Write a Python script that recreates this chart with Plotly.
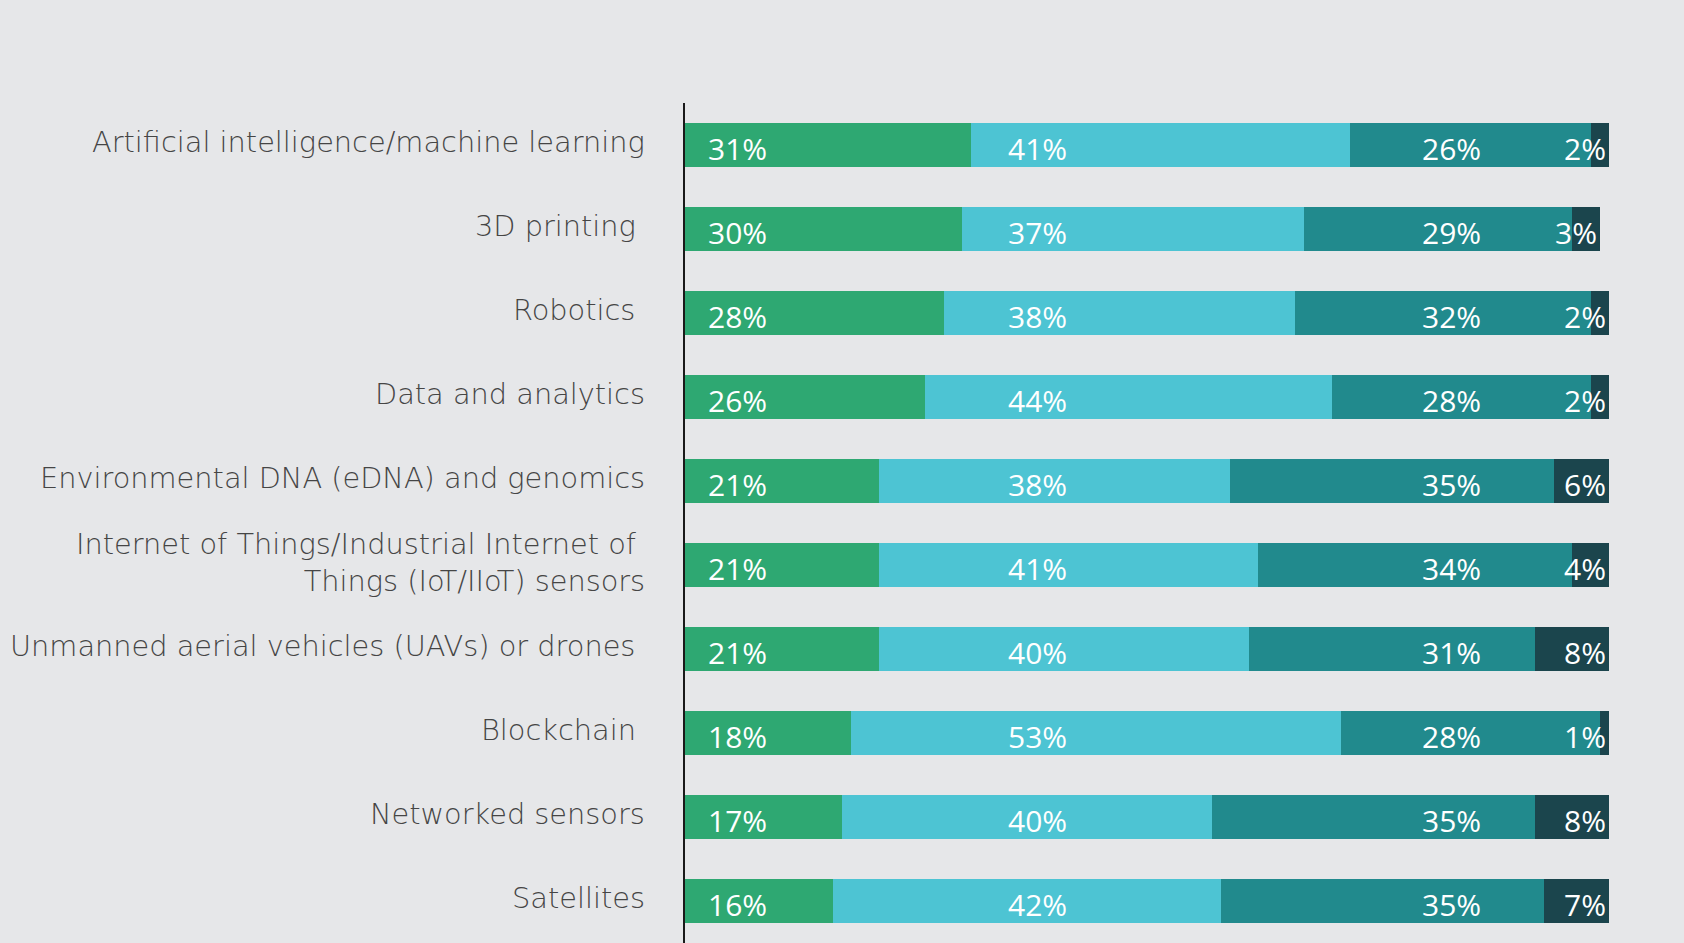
import plotly.graph_objects as go

# categories, top to bottom
categories = [
    "Artificial intelligence/machine learning",
    "3D printing\u00a0",
    "Robotics\u00a0",
    "Data and analytics",
    "Environmental DNA (eDNA) and genomics",
    "Internet of Things/Industrial Internet of\u00a0<br>Things (IoT/IIoT) sensors",
    "Unmanned aerial vehicles (UAVs) or drones\u00a0",
    "Blockchain\u00a0",
    "Networked sensors",
    "Satellites",
]

seg1 = [31, 30, 28, 26, 21, 21, 21, 18, 17, 16]
seg2 = [41, 37, 38, 44, 38, 41, 40, 53, 40, 42]
seg3 = [26, 29, 32, 28, 35, 34, 31, 28, 35, 35]
seg4 = [2, 3, 2, 2, 6, 4, 8, 1, 8, 7]

colors = ['#2ea872', '#4dc4d3', '#218a8d', '#1b454d']
BG = '#e6e7e9'

fig = go.Figure()
for vals, col in zip([seg1, seg2, seg3, seg4], colors):
    fig.add_trace(go.Bar(
        y=categories,
        x=vals,
        orientation='h',
        marker=dict(color=col, line=dict(width=0)),
        width=0.52,
        hoverinfo='skip',
        showlegend=False))

# value labels - fixed columns like the original
lab_font = dict(family='Open Sans', size=30, color='white')
cat_font = dict(family='DejaVu Sans', size=28.8, color='#454545', weight=200)
annotations = []
for i, cat in enumerate(categories):
    total = seg1[i] + seg2[i] + seg3[i] + seg4[i]
    annotations.append(dict(x=0, xref='paper', y=cat, text=cat, xanchor='right',
                            align='right', showarrow=False, font=cat_font,
                            xshift=-38, yshift=3))
    annotations.append(dict(x=2.3, y=cat, text='%d%%' % seg1[i], xanchor='left',
                            showarrow=False, font=lab_font, yshift=-3))
    annotations.append(dict(x=38.1, y=cat, text='%d%%' % seg2[i], xanchor='center',
                            showarrow=False, font=lab_font, yshift=-3))
    annotations.append(dict(x=83.0, y=cat, text='%d%%' % seg3[i], xanchor='center',
                            showarrow=False, font=lab_font, yshift=-3))
    annotations.append(dict(x=total, y=cat, text='%d%%' % seg4[i], xanchor='right',
                            showarrow=False, font=lab_font, yshift=-3, xshift=-1))

fig.update_layout(
    barmode='stack',
    width=1684,
    height=943,
    margin=dict(l=685, r=75, t=103, b=0, pad=0),
    paper_bgcolor=BG,
    plot_bgcolor=BG,
    annotations=annotations,
    xaxis=dict(range=[0, 100], visible=False, fixedrange=True),
    yaxis=dict(
        autorange='reversed',
        showline=True,
        linecolor='#1a1a1a',
        linewidth=2,
        showgrid=False,
        ticks='',
        showticklabels=False,
    ),
)

fig.write_html("out.html", config={'displayModeBar': False},
               post_script="document.body.style.margin='0';")
